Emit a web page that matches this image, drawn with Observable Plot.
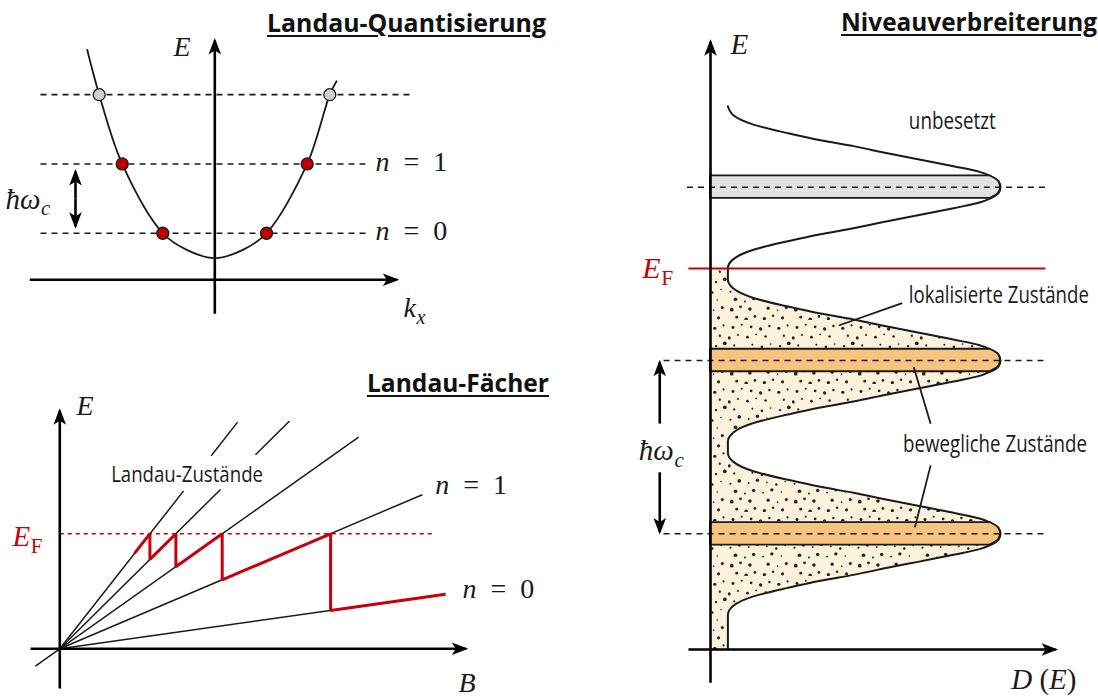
<!DOCTYPE html>
<html><head><meta charset="utf-8">
<script src="https://cdn.jsdelivr.net/npm/d3@7"></script>
<script src="https://cdn.jsdelivr.net/npm/@observablehq/plot@0.6"></script>
<style>
html,body{margin:0;padding:0;background:#fff;}
#fig{position:relative;width:1098px;height:697px;overflow:hidden;background:#fff;}
.title{position:absolute;font-family:"Open Sans","Noto Sans",sans-serif;font-weight:700;font-size:25px;line-height:25px;white-space:nowrap;text-decoration:underline;text-decoration-thickness:2px;text-underline-offset:3px;color:#111;transform-origin:0 0;}
</style></head>
<body><div id="fig"></div>
<script>
// ================= DATA =================
// --- Panel A: Landau-Quantisierung (k_x arbitrary units, E in units of ħω_c)
const parabolaK = [-1.276, -1.156, -0.926, -0.52, -0.28, 0, 0.28, 0.517, 0.924, 1.15, 1.217];
const parabolaE = [3.147, 2.5, 1.5, 0.5, 0.26, 0.14, 0.26, 0.5, 1.5, 2.5, 2.694];
const levelE = [0.5, 1.5, 2.5];
const levelKStart = [-1.743, -1.743, -1.743];
const levelKEnd = [1.507, 1.507, 1.99];
const stateK = [-0.52, 0.517, -0.926, 0.924, -1.156, 1.15];
const stateE = [0.5, 0.5, 1.5, 1.5, 2.5, 2.5];
const stateOccupied = [true, true, true, true, false, false];
const quantLabels = ["§iE", "§ik§sx", "§in§r\u2002=\u20021", "§in§r\u2002=\u20020", "§iħω§sc"];
const quantLabelK = [-0.413, 1.887, 1.607, 1.607, -2.093];
const quantLabelE = [3.065, -0.711, 1.405, 0.405, 0.857];
const quantKAxis = [-1.85, 1.82];
const quantKAxisE = -0.172;
const quantEAxis = [-0.662, 3.28];
const quantGapK = -1.393;
const quantGapE = [0.6, 1.0, 1.39];

// --- Panel B: Landau-Fächer (B arbitrary units, E in units of E_F)
const fanLevel = [0, 1, 2, 3, 3, 4, 4];
const fanStartB = [0, 0, -0.06, 0, 0.482, 0, 0.373];
const fanStartE = [0, 0, -0.15, 0, 1.687, 0, 1.679];
const fanEndB = [0.95, 0.893, 0.736, 0.396, 0.566, 0.305, 0.438];
const fanEndE = [0.475, 1.34, 1.84, 1.386, 1.981, 1.373, 1.971];
const fermiPathB = [0.184, 0.222, 0.222, 0.286, 0.286, 0.4, 0.4, 0.667, 0.667, 0.95];
const fermiPathE = [0.83, 1, 0.778, 1, 0.714, 1, 0.6, 1, 0.333, 0.475];
const fanFermiE = 1;
const fanFermiB = [0, 0.925];
const fanBAxis = [-0.072, 1.0];
const fanEAxis = [-0.345, 2.07];
const fanLabels = ["§iE", "§iB", "§in§r\u2002=\u20021", "§in§r\u2002=\u20020"];
const fanLabelB = [0.041, 0.982, 0.925, 0.992];
const fanLabelE = [2.037, -0.38, 1.342, 0.446];
const fanFermiLabel = {t: "§iE§SF", B: -0.1165, E: 0.89};
const fanStatesLabel = {t: "Landau-Zustände", B: 0.1265, E: 1.449};

// --- Panel C: Niveauverbreiterung (D arbitrary units, E in units of ħω_c)
const peakE = [0.5, 1.5, 2.5];
const peakOccupied = [true, true, false];
const profileDE = [-0.467, -0.415, -0.361, -0.312, -0.271, -0.237, -0.196, -0.159, -0.121, -0.087, -0.065, -0.035, 0, 0.035, 0.065, 0.087, 0.121, 0.159, 0.196, 0.237, 0.271, 0.312, 0.361, 0.415, 0.467];
const profileD = [0.06, 0.079, 0.148, 0.266, 0.379, 0.493, 0.61, 0.724, 0.838, 0.931, 0.964, 0.993, 1, 0.993, 0.964, 0.931, 0.838, 0.724, 0.61, 0.493, 0.379, 0.266, 0.148, 0.079, 0.06];
const bandHalf = 0.065;
const dosAxisE = -0.168;
const dosFermiE = 2.031;
const dosDAxis = [-0.076, 1.19];
const dosEAxis = [-0.36, 3.34];
const guideE = [2.5, 1.5, 0.5];
const guideStartD = [-0.081, -0.162, -0.162];
const guideEndD = [1.162, 1.162, 1.162];
const dosFermiD = [-0.076, 1.155];
const gapArrowD = -0.175;
const gapArrowFromE = [1.136, 0.855];
const gapArrowToE = [1.49, 0.51];
const leaderFromD = [0.661, 0.759, 0.759];
const leaderFromE = [1.831, 1.135, 0.895];
const leaderToD = [0.442, 0.701, 0.705];
const leaderToE = [1.702, 1.461, 0.538];
const dosMathLabels = ["§iE", "§iħω§sc", "§iD§r (§iE§r)"];
const dosMathD = [0.069, -0.247, 1.037];
const dosMathE = [3.266, 0.923, -0.394];
const dosFermiLabel = {t: "§iE§SF", D: -0.235, E: 1.977};
const dosTexts = ["unbesetzt", "lokalisierte Zustände", "bewegliche Zustände"];
const dosTextD = [0.684, 0.684, 0.664];
const dosTextE = [2.837, 1.831, 0.971];

const titles = ["Landau-Quantisierung", "Landau-Fächer", "Niveauverbreiterung"];

// ================= STYLE / LAYOUT =================
const MATH = '"Liberation Serif", "DejaVu Serif", serif';
const SANS = '"Open Sans", "Noto Sans", sans-serif';
const INK = "#1a1a1a";
const RED = "#c8000a";
const ORANGE = "#f7c37f";
const GREY = "#e2e2e2";
const BEIGE = "#fdf3dc";
const textWidths = {"Landau-Zustände": 152, "unbesetzt": 87, "lokalisierte Zustände": 180, "bewegliche Zustände": 184};
const titleLayout = [
  {right: 545.5, baseline: 32, width: 279},
  {right: 549, baseline: 392.5, width: 182},
  {right: 1096.5, baseline: 31, width: 256}
];

const fig = document.getElementById("fig");
function mount(svg, left, top) {
  svg.style.position = "absolute"; svg.style.left = left + "px"; svg.style.top = top + "px";
  fig.appendChild(svg); return svg;
}
function richify(svg) {
  d3.select(svg).selectAll("text").each(function () {
    const t = this.textContent;
    if (!t.includes("§")) return;
    const el = d3.select(this);
    el.text(null);
    for (const seg of t.split("§")) {
      if (!seg) continue;
      const code = seg[0], str = seg.slice(1);
      const ts = el.append("tspan").text(str);
      ts.attr("font-style", code === "i" || code === "s" ? "italic" : "normal");
      if (code === "s" || code === "S") ts.attr("font-size", "72%").attr("dy", "0.32em").attr("dx", "0.03em");
    }
  });
}
function solidArrows(svg) {
  d3.select(svg).selectAll("marker").each(function () {
    const m = d3.select(this);
    const color = m.attr("stroke") || INK;
    m.attr("viewBox", "-16 -8 20 16").attr("markerWidth", 20).attr("markerHeight", 16)
     .attr("markerUnits", "userSpaceOnUse").attr("refX", 0).attr("refY", 0)
     .attr("fill", color).attr("stroke", "none");
    m.selectAll("*").remove();
    m.append("path").attr("d", "M2.5,0 L-14,-6.3 L-10,0 L-14,6.3 Z");
  });
}
// horizontally condense sans labels to the reference width (keeps left edge fixed)
function fitTexts(svg) {
  d3.select(svg).selectAll("text").each(function () {
    const w = textWidths[this.textContent];
    if (!w) return;
    const box = this.getBBox();
    const base = this.transform.baseVal.consolidate();
    const tx = base ? base.matrix.e : 0;
    const left = tx + box.x;
    const s = w / box.width;
    const g = document.createElementNS("http://www.w3.org/2000/svg", "g");
    g.setAttribute("transform", `translate(${left},0) scale(${s},1) translate(${-left},0)`);
    this.parentNode.insertBefore(g, this);
    g.appendChild(this);
  });
}
function finish(svg, left, top) { mount(svg, left, top); richify(svg); solidArrows(svg); fitTexts(svg); return svg; }
const mathText = (data, extra = {}) => Plot.text(data, {x: "x", y: "y", text: "t", fontFamily: MATH, fontSize: 27, textAnchor: "start", lineAnchor: "bottom", fill: INK, ...extra});

// ================= PANEL A =================
const parabola = parabolaK.map((k, i) => ({k, E: parabolaE[i]}));
const levels = levelE.map((E, i) => ({E, k0: levelKStart[i], k1: levelKEnd[i]}));
const states = stateK.map((k, i) => ({k, E: stateE[i], occ: stateOccupied[i]}));
const axesA = [
  {x1: quantKAxis[0], y1: quantKAxisE, x2: quantKAxis[1], y2: quantKAxisE},
  {x1: 0, y1: quantEAxis[0], x2: 0, y2: quantEAxis[1]}
];
const gapA = [
  {x1: quantGapK, y1: quantGapE[1], x2: quantGapK, y2: quantGapE[2]},
  {x1: quantGapK, y1: quantGapE[1], x2: quantGapK, y2: quantGapE[0]}
];
const labelsA = quantLabels.map((t, i) => ({t, x: quantLabelK[i], y: quantLabelE[i], s: i === 4 ? 29 : 28}));

const svgA = Plot.plot({
  width: 560, height: 345, margin: 0,
  x: {domain: [-2.143, 3.457], axis: null},
  y: {domain: [-1.12, 3.859], axis: null},
  style: {background: "none", overflow: "visible"},
  marks: [
    Plot.link(levels, {x1: "k0", x2: "k1", y1: "E", y2: "E", stroke: INK, strokeWidth: 1.6, strokeDasharray: "6,5"}),
    Plot.link(axesA, {x1: "x1", y1: "y1", x2: "x2", y2: "y2", stroke: "#000", strokeWidth: 2.6, markerEnd: "arrow"}),
    Plot.line(parabola, {x: "k", y: "E", curve: "catmull-rom", stroke: INK, strokeWidth: 1.8}),
    Plot.link(gapA, {x1: "x1", y1: "y1", x2: "x2", y2: "y2", stroke: "#000", strokeWidth: 2.6, markerEnd: "arrow"}),
    Plot.dot(states.filter(d => d.occ), {x: "k", y: "E", r: 6, fill: "#c00000", stroke: INK, strokeWidth: 1.3}),
    Plot.dot(states.filter(d => !d.occ), {x: "k", y: "E", r: 6, fill: "#cfcfcf", stroke: INK, strokeWidth: 1.3}),
    mathText(labelsA, {fontSize: "s"})
  ]
});
finish(svgA, 0, 0);

// ================= PANEL B =================
const fanLines = fanLevel.map((n, i) => ({n, B1: fanStartB[i], E1: fanStartE[i], B2: fanEndB[i], E2: fanEndE[i]}));
const fermiPath = fermiPathB.map((B, i) => ({B, E: fermiPathE[i]}));
const axesB = [
  {x1: fanBAxis[0], y1: 0, x2: fanBAxis[1], y2: 0},
  {x1: 0, y1: fanEAxis[0], x2: 0, y2: fanEAxis[1]}
];
const labelsB = fanLabels.map((t, i) => ({t, x: fanLabelB[i], y: fanLabelE[i]}));

const svgB = Plot.plot({
  width: 560, height: 337, margin: 0,
  x: {domain: [-0.146, 1.2333], axis: null},
  y: {domain: [-0.4235, 2.507], axis: null},
  style: {background: "none", overflow: "visible"},
  marks: [
    Plot.link([{x1: fanFermiB[0], x2: fanFermiB[1], y: fanFermiE}], {x1: "x1", x2: "x2", y1: "y", y2: "y", stroke: RED, strokeWidth: 1.6, strokeDasharray: "4,4"}),
    Plot.link(fanLines, {x1: "B1", y1: "E1", x2: "B2", y2: "E2", stroke: INK, strokeWidth: 1.5}),
    Plot.link(axesB, {x1: "x1", y1: "y1", x2: "x2", y2: "y2", stroke: "#000", strokeWidth: 2.6, markerEnd: "arrow"}),
    Plot.line(fermiPath, {x: "B", y: "E", stroke: RED, strokeWidth: 3, strokeLinejoin: "miter", strokeLinecap: "butt"}),
    mathText(labelsB, {fontSize: 28}),
    mathText([{t: fanFermiLabel.t, x: fanFermiLabel.B, y: fanFermiLabel.E}], {fill: RED, fontSize: 29}),
    Plot.text([{t: fanStatesLabel.t, x: fanStatesLabel.B, y: fanStatesLabel.E}], {x: "x", y: "y", text: "t", fontFamily: SANS, fontSize: 22.5, textAnchor: "start", lineAnchor: "bottom", fill: INK})
  ]
});
finish(svgB, 0, 360);

// ================= PANEL C =================
const curve = [];
peakE.forEach((c, i) => profileDE.forEach((d, j) => curve.push({E: c + d, D: profileD[j]})));
curve.unshift({E: dosAxisE, D: profileD[0]});
const filled = curve.filter(p => p.E <= dosFermiE + 0.005);
const bands = [];
peakE.forEach((c, i) => profileDE.forEach((d, j) => {
  if (Math.abs(d) <= bandHalf) bands.push({E: c + d, D: profileD[j], band: i, occ: peakOccupied[i]});
}));
const guides = guideE.map((E, i) => ({E, d0: guideStartD[i], d1: guideEndD[i]}));
const axesC = [
  {x1: dosDAxis[0], y1: dosAxisE, x2: dosDAxis[1], y2: dosAxisE},
  {x1: 0, y1: dosEAxis[0], x2: 0, y2: dosEAxis[1]}
];
const gapC = gapArrowFromE.map((e, i) => ({x1: gapArrowD, y1: e, x2: gapArrowD, y2: gapArrowToE[i]}));
const leaders = leaderFromD.map((d, i) => ({x1: d, y1: leaderFromE[i], x2: leaderToD[i], y2: leaderToE[i]}));
const labelsC = dosMathLabels.map((t, i) => ({t, x: dosMathD[i], y: dosMathE[i]}));
const textsC = dosTexts.map((t, i) => ({t, x: dosTextD[i], y: dosTextE[i]}));

const svgC = Plot.plot({
  width: 498, height: 697, margin: 0,
  x: {domain: [-0.3793, 1.3379], axis: null},
  y: {domain: [-0.4446, 3.5774], axis: null},
  style: {background: "none", overflow: "visible"},
  marks: [
    Plot.areaX(filled, {y: "E", x1: d => 0, x2: "D", fill: "url(#speckle)", curve: "monotone-y"}),
    Plot.line(curve, {x: "D", y: "E", stroke: INK, strokeWidth: 2, curve: "monotone-y"}),
    Plot.areaX(bands.filter(d => !d.occ), {y: "E", x1: d => 0, x2: "D", z: "band", fill: GREY, stroke: INK, strokeWidth: 1.8, curve: "monotone-y"}),
    Plot.areaX(bands.filter(d => d.occ), {y: "E", x1: d => 0, x2: "D", z: "band", fill: ORANGE, stroke: INK, strokeWidth: 1.8, curve: "monotone-y"}),
    Plot.link(guides, {x1: "d0", x2: "d1", y1: "E", y2: "E", stroke: INK, strokeWidth: 1.6, strokeDasharray: "6,5"}),
    Plot.link([{x1: dosFermiD[0], x2: dosFermiD[1], y: dosFermiE}], {x1: "x1", x2: "x2", y1: "y", y2: "y", stroke: RED, strokeWidth: 2}),
    Plot.link(axesC, {x1: "x1", y1: "y1", x2: "x2", y2: "y2", stroke: "#000", strokeWidth: 2.6, markerEnd: "arrow"}),
    Plot.link(gapC, {x1: "x1", y1: "y1", x2: "x2", y2: "y2", stroke: "#000", strokeWidth: 2.6, markerEnd: "arrow"}),
    Plot.link(leaders, {x1: "x1", y1: "y1", x2: "x2", y2: "y2", stroke: INK, strokeWidth: 1.8}),
    mathText(labelsC, {fontSize: 29}),
    mathText([{t: dosFermiLabel.t, x: dosFermiLabel.D, y: dosFermiLabel.E}], {fontSize: 30, fill: RED}),
    Plot.text(textsC, {x: "x", y: "y", text: "t", fontFamily: SANS, fontSize: 24, textAnchor: "start", lineAnchor: "bottom", fill: INK})
  ]
});
// speckle texture for the occupied (below E_F) states
const defs = d3.select(svgC).insert("defs", ":first-child");
const pat = defs.append("pattern").attr("id", "speckle").attr("patternUnits", "userSpaceOnUse").attr("width", 64).attr("height", 64);
pat.append("rect").attr("width", 64).attr("height", 64).attr("fill", BEIGE);
for (let i = 1; i <= 44; i++) {
  pat.append("circle")
    .attr("cx", ((i * 0.7548776662) % 1) * 64)
    .attr("cy", ((i * 0.5698402910) % 1) * 64)
    .attr("r", 0.75 + ((i * 0.41421356) % 1) * 1.15)
    .attr("fill", "#222");
}
finish(svgC, 600, 0);

// ================= TITLES =================
titles.forEach((t, i) => {
  const el = document.createElement("div");
  el.className = "title"; el.textContent = t;
  fig.appendChild(el);
  const natural = el.getBoundingClientRect().width;
  const L = titleLayout[i];
  el.style.left = (L.right - L.width) + "px";
  el.style.top = (L.baseline - 22.2) + "px";
  el.style.transform = `scaleX(${L.width / natural})`;
});
</script>
</body></html>
